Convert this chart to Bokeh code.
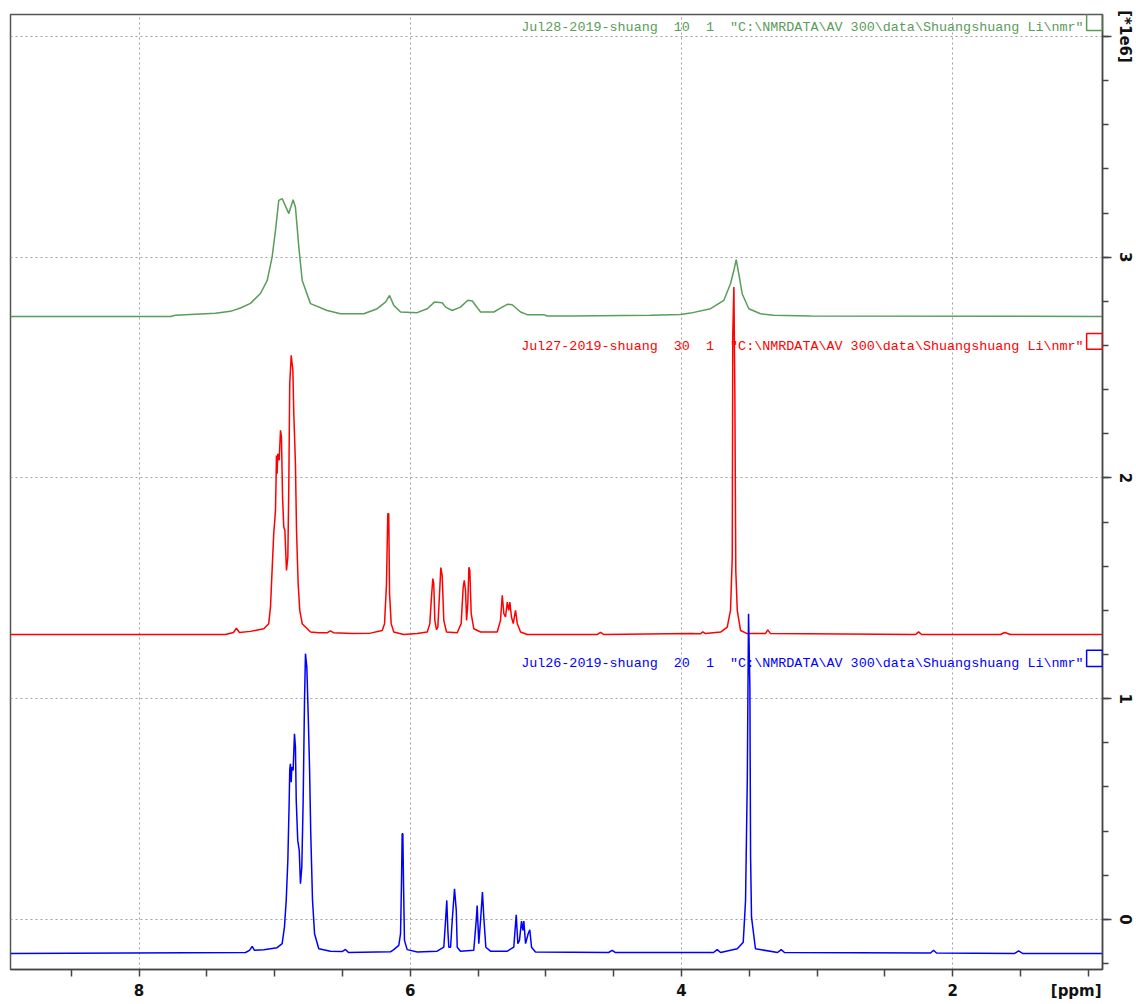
from bokeh.plotting import figure
from bokeh.models import Range1d, SingleIntervalTicker, FixedTicker, Label, BoxAnnotation
from bokeh.embed import file_html
from bokeh.resources import INLINE

# ---- spectrum 1: Jul28 (green), ppm / intensity [*1e6]
green_ppm = [8.948, 7.768, 7.732, 7.437, 7.326, 7.252, 7.179, 7.105, 7.055, 7.019, 6.994, 6.970,
             6.945, 6.896, 6.864, 6.847, 6.822, 6.797, 6.736, 6.613, 6.515, 6.343, 6.244, 6.183,
             6.153, 6.122, 6.072, 5.949, 5.875, 5.822, 5.765, 5.740, 5.691, 5.630, 5.576, 5.543,
             5.482, 5.384, 5.335, 5.285, 5.249, 5.187, 5.138, 5.015, 4.991, 4.819, 4.229, 4.007,
             3.934, 3.786, 3.688, 3.639, 3.614, 3.597, 3.578, 3.553, 3.504, 3.418, 3.320, 3.049,
             0.896]
green_int = [2.732, 2.732, 2.737, 2.746, 2.755, 2.770, 2.791, 2.836, 2.895, 3.001, 3.122, 3.258,
             3.266, 3.198, 3.261, 3.227, 3.046, 2.895, 2.790, 2.759, 2.744, 2.744, 2.767, 2.797,
             2.827, 2.782, 2.752, 2.749, 2.767, 2.797, 2.794, 2.774, 2.759, 2.774, 2.805, 2.802,
             2.752, 2.752, 2.770, 2.787, 2.785, 2.752, 2.740, 2.740, 2.734, 2.734, 2.737, 2.741,
             2.747, 2.767, 2.805, 2.880, 2.941, 2.989, 2.926, 2.835, 2.767, 2.744, 2.737, 2.734,
             2.732]

# ---- spectrum 2: Jul27 (red)
red_ppm = [8.948, 7.363, 7.304, 7.282, 7.260, 7.179, 7.080, 7.044, 7.031, 7.018, 7.007, 6.994,
           6.989, 6.987, 6.982, 6.977, 6.967, 6.957, 6.950, 6.942, 6.933, 6.925, 6.913, 6.903,
           6.896, 6.889, 6.878, 6.866, 6.859, 6.847, 6.839, 6.827, 6.815, 6.797, 6.736, 6.675,
           6.611, 6.589, 6.567, 6.429, 6.294, 6.207, 6.190, 6.176, 6.166, 6.159, 6.153, 6.141,
           6.122, 6.048, 5.949, 5.875, 5.856, 5.844, 5.834, 5.827, 5.819, 5.807, 5.797, 5.782,
           5.775, 5.765, 5.753, 5.733, 5.654, 5.625, 5.610, 5.602, 5.593, 5.585, 5.576, 5.568,
           5.561, 5.551, 5.532, 5.482, 5.359, 5.335, 5.322, 5.310, 5.298, 5.285, 5.274, 5.266,
           5.254, 5.241, 5.224, 5.211, 5.187, 5.138, 4.620, 4.597, 4.575, 3.934, 3.860, 3.843,
           3.823, 3.712, 3.663, 3.639, 3.626, 3.622, 3.614, 3.607, 3.600, 3.589, 3.565, 3.516,
           3.381, 3.364, 3.344, 2.274, 2.252, 2.230, 1.648, 1.618, 1.574, 0.896]
red_int = [1.291, 1.291, 1.300, 1.319, 1.300, 1.305, 1.317, 1.340, 1.415, 1.596, 1.748, 1.853,
           2.019, 2.102, 2.019, 2.110, 2.080, 2.216, 2.185, 1.913, 1.778, 1.763, 1.581, 1.642,
           1.959, 2.427, 2.556, 2.488, 2.291, 2.065, 1.763, 1.521, 1.400, 1.340, 1.302, 1.299,
           1.299, 1.307, 1.299, 1.295, 1.297, 1.309, 1.340, 1.513, 1.838, 1.838, 1.476, 1.340,
           1.302, 1.291, 1.295, 1.302, 1.340, 1.460, 1.544, 1.521, 1.355, 1.313, 1.324, 1.506,
           1.594, 1.559, 1.355, 1.302, 1.299, 1.340, 1.506, 1.536, 1.491, 1.355, 1.430, 1.596,
           1.581, 1.385, 1.317, 1.302, 1.302, 1.355, 1.468, 1.385, 1.370, 1.438, 1.400, 1.438,
           1.370, 1.340, 1.400, 1.340, 1.302, 1.291, 1.291, 1.300, 1.291, 1.295, 1.294, 1.303,
           1.295, 1.302, 1.324, 1.400, 1.642, 2.654, 2.865, 2.397, 1.581, 1.400, 1.309, 1.295,
           1.295, 1.312, 1.295, 1.291, 1.303, 1.291, 1.291, 1.300, 1.291, 1.291]

# ---- spectrum 3: Jul26 (blue)
blue_ppm = [8.948, 7.215, 7.186, 7.166, 7.149, 7.080, 6.982, 6.945, 6.928, 6.915, 6.903, 6.893,
            6.889, 6.884, 6.878, 6.874, 6.864, 6.854, 6.847, 6.841, 6.830, 6.819, 6.810, 6.800,
            6.790, 6.780, 6.773, 6.763, 6.753, 6.743, 6.734, 6.721, 6.706, 6.675, 6.589, 6.500,
            6.478, 6.456, 6.146, 6.122, 6.085, 6.072, 6.065, 6.060, 6.055, 6.050, 6.043, 6.023,
            5.949, 5.802, 5.753, 5.740, 5.731, 5.723, 5.716, 5.703, 5.691, 5.674, 5.661, 5.654,
            5.630, 5.532, 5.514, 5.507, 5.495, 5.482, 5.468, 5.458, 5.443, 5.409, 5.285, 5.237,
            5.219, 5.207, 5.195, 5.180, 5.170, 5.163, 5.150, 5.131, 5.119, 5.106, 5.077, 4.538,
            4.511, 4.487, 3.764, 3.737, 3.712, 3.589, 3.545, 3.528, 3.515, 3.506, 3.496, 3.491,
            3.484, 3.455, 3.292, 3.265, 3.241, 2.164, 2.142, 2.120, 1.544, 1.515, 1.485, 0.896]
blue_int = [-0.154, -0.150, -0.140, -0.122, -0.140, -0.137, -0.128, -0.110, -0.035, 0.086, 0.267, 0.539,
            0.675, 0.705, 0.622, 0.690, 0.675, 0.841, 0.781, 0.539, 0.358, 0.313, 0.162, 0.237,
            0.539, 0.992, 1.204, 1.143, 0.932, 0.690, 0.388, 0.086, -0.065, -0.133, -0.144, -0.145,
            -0.136, -0.150, -0.147, -0.137, -0.118, -0.065, 0.162, 0.388, 0.388, 0.162, -0.095, -0.137,
            -0.148, -0.144, -0.126, -0.005, 0.086, -0.050, -0.126, -0.126, -0.005, 0.139, 0.041, -0.126,
            -0.144, -0.140, -0.005, 0.063, -0.110, -0.005, 0.124, 0.010, -0.126, -0.144, -0.144, -0.126,
            0.021, -0.110, -0.095, -0.008, -0.050, -0.008, -0.110, -0.065, -0.047, -0.126, -0.148, -0.150,
            -0.140, -0.150, -0.150, -0.137, -0.150, -0.133, -0.103, 0.086, 0.638, 1.385, 1.053, 0.290,
            0.010, -0.133, -0.150, -0.137, -0.150, -0.152, -0.140, -0.152, -0.154, -0.143, -0.154, -0.154]

# tick labels
x_ticks = [2, 4, 6, 8]
x_unit_label = "[ppm]"
y_unit_label = "[*1e6]"

S2 = " \u00a0"  # two visible spaces (SVG collapses plain runs of spaces)
titles = ['Jul28-2019-shuang' + S2 + '10' + S2 + '1' + S2 + '"C:\\NMRDATA\\AV 300\\data\\Shuangshuang Li\\nmr"',
          'Jul27-2019-shuang' + S2 + '30' + S2 + '1' + S2 + '"C:\\NMRDATA\\AV 300\\data\\Shuangshuang Li\\nmr"',
          'Jul26-2019-shuang' + S2 + '20' + S2 + '1' + S2 + '"C:\\NMRDATA\\AV 300\\data\\Shuangshuang Li\\nmr"']
colors = ["#5a9c5a", "#ff0000", "#0000ff"]

p = figure(width=1136, height=1004, x_range=Range1d(8.948, 0.896), y_range=Range1d(-0.227, 4.10),
           output_backend="svg", toolbar_location=None, y_axis_location="right",
           min_border_left=10, min_border_right=34, min_border_top=14, min_border_bottom=35)
p.background_fill_color = "white"
p.border_fill_color = "white"
p.outline_line_color = "#555555"
p.outline_line_width = 1.5

for xs, ys, c in [(green_ppm, green_int, colors[0]), (red_ppm, red_int, colors[1]),
                  (blue_ppm, blue_int, colors[2])]:
    p.line(xs, ys, line_color=c, line_width=1.5)

# x axis: labelled positions (plus the unit label), tick marks every 0.5 ppm
unit_pos = 1.09
p.xaxis.ticker = FixedTicker(ticks=x_ticks + [unit_pos],
                             minor_ticks=[1.0 + 0.5 * i for i in range(16)])
p.xaxis.major_label_overrides = {unit_pos: x_unit_label}
p.xaxis.major_tick_out = 0
p.xaxis.minor_tick_out = 7
p.xaxis.major_label_standoff = 5

p.yaxis.ticker = SingleIntervalTicker(interval=1, num_minor_ticks=5)
p.yaxis.major_label_overrides = {4: y_unit_label}
p.yaxis.major_tick_out = 9
p.yaxis.minor_tick_out = 6
p.yaxis.major_label_standoff = 4
p.yaxis.major_label_orientation = "parallel"

p.xgrid.ticker = FixedTicker(ticks=x_ticks)
p.ygrid.ticker = SingleIntervalTicker(interval=1)
for g in (p.xgrid, p.ygrid):
    g.grid_line_color = "#a0a0a0"
    g.grid_line_dash = "2 3"
    g.grid_line_width = 1

for ax in (p.xaxis, p.yaxis):
    ax.axis_line_color = "#444444"
    ax.axis_line_width = 1.5
    ax.major_tick_line_color = "#444444"
    ax.minor_tick_line_color = "#444444"
    ax.major_tick_line_width = 1.5
    ax.minor_tick_line_width = 1.5
    ax.major_tick_in = 0
    ax.minor_tick_in = 0
    ax.major_label_text_font = "DejaVu Sans"
    ax.major_label_text_font_style = "bold"
    ax.major_label_text_font_size = "15px"
    ax.major_label_text_color = "#111111"

label_y = [4.042, 2.596, 1.160]
box_y = [(4.028, 4.105), (2.583, 2.655), (1.146, 1.219)]
for t, c, ly, (b, tp) in zip(titles, colors, label_y, box_y):
    p.add_layout(Label(x=1.035, y=ly, text=t, text_font="Liberation Mono", text_font_size="13.4px",
                       text_color=c, text_align="right", text_baseline="middle"))
    p.add_layout(BoxAnnotation(left=1.013, right=0.896, bottom=b, top=tp, fill_alpha=0,
                               line_color=c, line_width=1.5, line_alpha=1.0))

open("out.html", "w").write(file_html(p, INLINE))
